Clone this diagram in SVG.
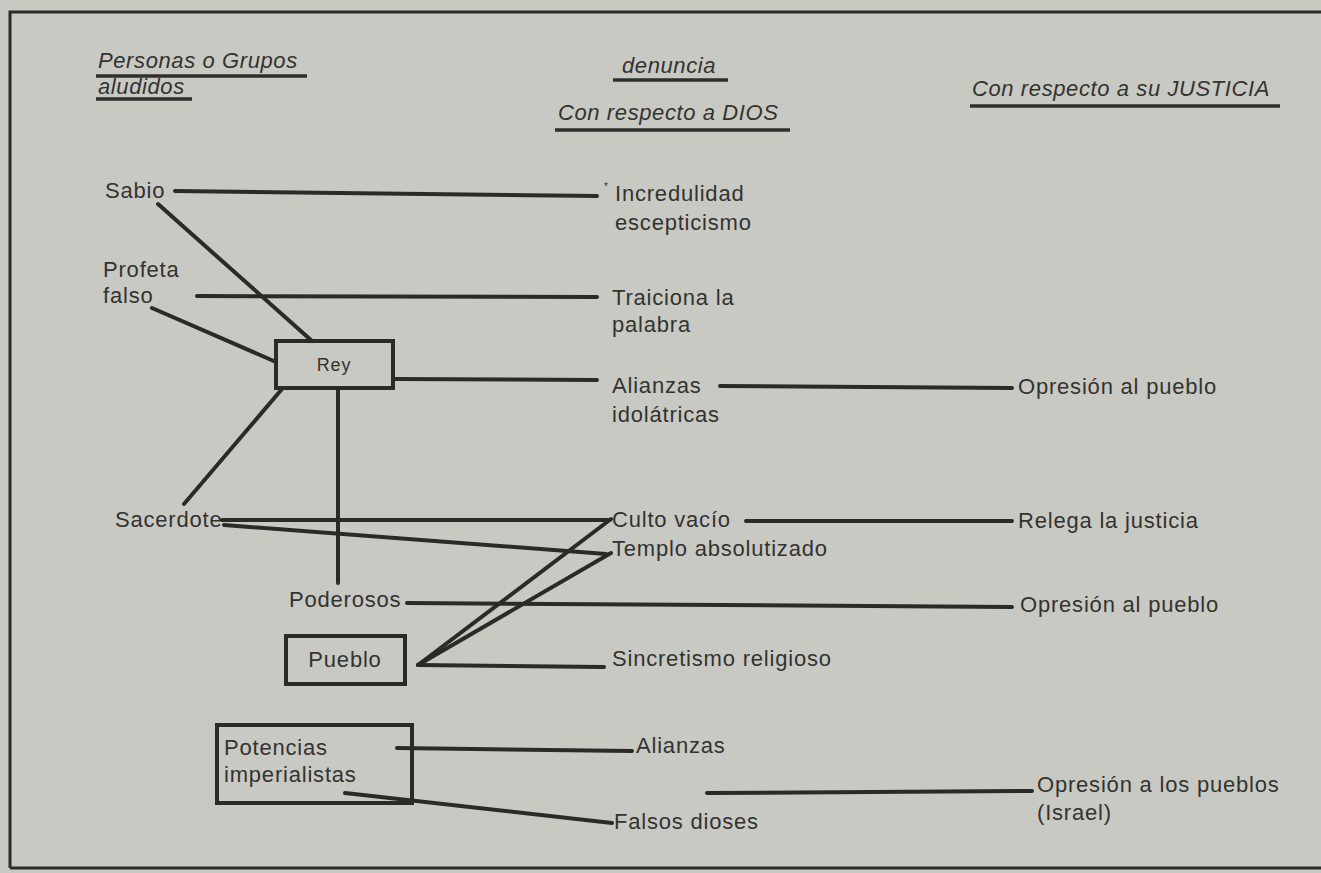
<svg xmlns="http://www.w3.org/2000/svg" width="1321" height="873" viewBox="0 0 1321 873">
<style>
.t{font-family:"Liberation Sans",Arial,sans-serif;font-size:22px;letter-spacing:0.8px;fill:#333331}
.h{font-family:"Liberation Sans",Arial,sans-serif;font-size:22px;font-style:italic;letter-spacing:0.6px;fill:#333331}
.ln{stroke:#2a2a28;stroke-width:4;stroke-linecap:round;fill:none}
.ul{stroke:#2e2e2c;stroke-width:3.5;fill:none}
.box{stroke:#2a2a28;stroke-width:4;fill:none}
</style>
<rect x="0" y="0" width="1321" height="873" fill="#c9c9c3"/>
<g id="frame" stroke="#2a2a28" stroke-width="3" fill="none">
<path d="M10,868 L10,12 L1321,12"/>
<path d="M10,868 L1321,868"/>
</g>
<g id="headers">
<text class="h" x="98" y="68">Personas o Grupos</text>
<text class="h" x="98" y="94">aludidos</text>
<text class="h" x="622" y="73">denuncia</text>
<text class="h" x="558" y="120">Con respecto a DIOS</text>
<text class="h" x="972" y="96">Con respecto a su JUSTICIA</text>
<line class="ul" x1="96" y1="76" x2="307" y2="76"/>
<line class="ul" x1="96" y1="99" x2="192" y2="99"/>
<line class="ul" x1="613" y1="80" x2="728" y2="80"/>
<line class="ul" x1="555" y1="130" x2="790" y2="130"/>
<line class="ul" x1="970" y1="106" x2="1280" y2="106"/>
</g>
<g id="connectors">
<line class="ln" x1="175" y1="191" x2="597" y2="196"/>
<line class="ln" x1="158" y1="204" x2="312" y2="341"/>
<line class="ln" x1="197" y1="296" x2="597" y2="297"/>
<line class="ln" x1="152" y1="308" x2="276" y2="362"/>
<line class="ln" x1="395" y1="379" x2="597" y2="380"/>
<line class="ln" x1="338" y1="388" x2="338" y2="583"/>
<line class="ln" x1="184" y1="504" x2="282" y2="389"/>
<line class="ln" x1="222" y1="520" x2="610" y2="520"/>
<line class="ln" x1="224" y1="525" x2="606" y2="554"/>
<line class="ln" x1="418" y1="665" x2="611" y2="519"/>
<line class="ln" x1="418" y1="665" x2="611" y2="553"/>
<line class="ln" x1="418" y1="665" x2="604" y2="667"/>
<line class="ln" x1="407" y1="603" x2="1012" y2="607"/>
<line class="ln" x1="746" y1="521" x2="1012" y2="521"/>
<line class="ln" x1="720" y1="386" x2="1012" y2="388"/>
<line class="ln" x1="397" y1="748" x2="632" y2="751"/>
<line class="ln" x1="345" y1="793" x2="612" y2="823"/>
<line class="ln" x1="707" y1="793" x2="1032" y2="791"/>
</g>
<g id="n-sabio"><text class="t" x="105" y="198">Sabio</text></g>
<g id="n-profeta"><text class="t" x="103" y="277">Profeta</text><text class="t" x="103" y="303">falso</text></g>
<g id="n-rey"><rect class="box" x="276" y="341" width="117" height="47"/><text class="t" x="334" y="371" text-anchor="middle" style="font-size:18px">Rey</text></g>
<g id="n-sacerdote"><text class="t" x="115" y="527">Sacerdote</text></g>
<g id="n-poderosos"><text class="t" x="289" y="607">Poderosos</text></g>
<g id="n-pueblo"><rect class="box" x="286" y="636" width="119" height="48"/><text class="t" x="345" y="667" text-anchor="middle">Pueblo</text></g>
<g id="n-potencias"><rect class="box" x="217" y="725" width="195" height="78"/><text class="t" x="224" y="755">Potencias</text><text class="t" x="224" y="782">imperialistas</text></g>
<g id="n-incredulidad"><text class="t" x="604" y="190" style="font-size:10px">*</text><text class="t" x="615" y="201">Incredulidad</text><text class="t" x="615" y="230">escepticismo</text></g>
<g id="n-traiciona"><text class="t" x="612" y="305">Traiciona la</text><text class="t" x="612" y="332">palabra</text></g>
<g id="n-alianzas-idol"><text class="t" x="612" y="393">Alianzas</text><text class="t" x="612" y="422">idolátricas</text></g>
<g id="n-culto"><text class="t" x="612" y="527">Culto vacío</text></g>
<g id="n-templo"><text class="t" x="612" y="556">Templo absolutizado</text></g>
<g id="n-sincretismo"><text class="t" x="612" y="666">Sincretismo religioso</text></g>
<g id="n-alianzas"><text class="t" x="636" y="753">Alianzas</text></g>
<g id="n-falsos"><text class="t" x="614" y="829">Falsos dioses</text></g>
<g id="n-opresion1"><text class="t" x="1018" y="394">Opresión al pueblo</text></g>
<g id="n-relega"><text class="t" x="1018" y="528">Relega la justicia</text></g>
<g id="n-opresion2"><text class="t" x="1020" y="612">Opresión al pueblo</text></g>
<g id="n-opresion3"><text class="t" x="1037" y="792">Opresión a los pueblos</text><text class="t" x="1037" y="820">(Israel)</text></g>
</svg>
